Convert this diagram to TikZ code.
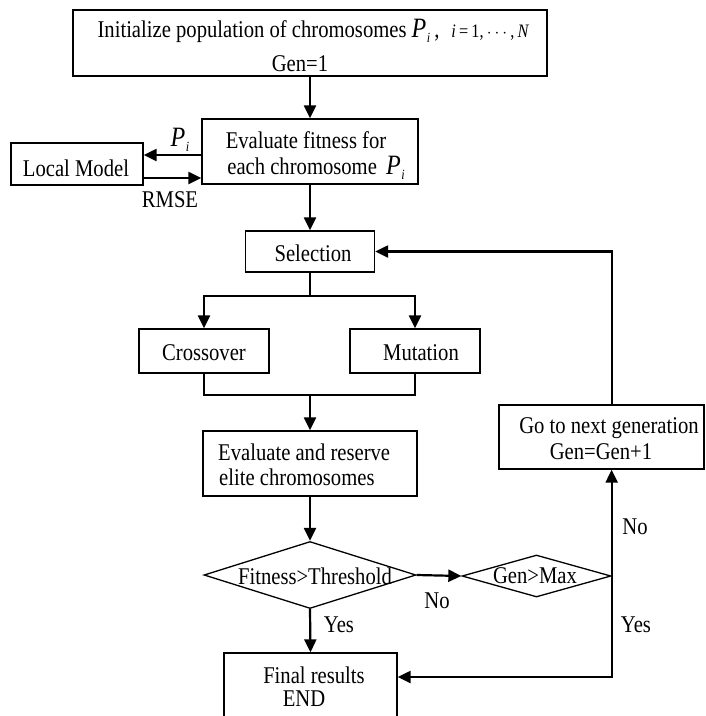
\documentclass[tikz,border=0pt]{standalone}
\usepackage{fontspec}
\setmainfont{Liberation Serif}[FakeStretch=0.86]
\usetikzlibrary{arrows.meta,shapes.geometric,calc}
\newcommand\Psub{{\fontsize{28}{28}\selectfont\itshape P}\kern0.5pt\raisebox{-5pt}{\fontsize{14}{14}\selectfont\itshape i}}
\begin{document}
\begin{tikzpicture}[x=1pt,y=-1pt,
  box/.style={draw,line width=1.3pt,rectangle,inner sep=0pt},
  dia/.style={draw,line width=1.3pt,diamond,inner sep=0pt},
  txt/.style={inner sep=0pt,font=\fontsize{24}{28}\selectfont},
  conn/.style={line width=2.2pt},
  arr/.style={conn,-{Triangle[length=13pt,width=12pt]}}]
\useasboundingbox (0,0) rectangle (706,716);
\clip (0,0) rectangle (706,716);
% boxes
\node[box,minimum width=474pt,minimum height=66pt] (init) at (310,43) {};
\node[box,minimum width=216pt,minimum height=65pt] (eval) at (310,151.5) {};
\node[box,minimum width=132pt,minimum height=42pt] (local) at (77,164) {};
\node[box,minimum width=129pt,minimum height=41pt] (sel) at (310,251.5) {};
\node[box,minimum width=130pt,minimum height=44pt] (cross) at (204,351) {};
\node[box,minimum width=130pt,minimum height=44pt] (mut) at (415,351) {};
\node[box,minimum width=214pt,minimum height=65pt] (elite) at (310,463.5) {};
\node[dia,minimum width=212pt,minimum height=67pt,shape aspect=3.16] (fit) at (310,575) {};
\node[dia,minimum width=149pt,minimum height=42pt,shape aspect=3.5] (gm) at (536.5,576) {};
\node[box,minimum width=205pt,minimum height=64pt] (go) at (601.5,437) {};
\node[box,minimum width=173pt,minimum height=87pt] (final) at (310.5,696.5) {};
% texts
\node[txt] (initT) at (313,31) {Initialize population of chromosomes \Psub\,,\hspace{12pt}{\fontsize{19}{19}\selectfont\itshape i\,\upshape=\,1,\,$\cdots$\,,\,\itshape N}};
\node[txt] (genT) at (300,64) {Gen=1};
\node[txt] (evalT1) at (306,140) {Evaluate fitness for};
\node[txt] (evalT2) at (316,168) {each chromosome \,\Psub};
\node[txt] (localT) at (76,168) {Local Model};
\node[txt] (selT) at (313,253) {Selection};
\node[txt] (crossT) at (204,353) {Crossover};
\node[txt] (mutT) at (421,353) {Mutation};
\node[txt,anchor=west] (eliteT1) at (218,452) {Evaluate and reserve};
\node[txt,anchor=west] (eliteT2) at (219,477) {elite chromosomes};
\node[txt] (fitT) at (315,576) {Fitness>Threshold};
\node[txt] (gmT) at (535,576) {Gen>Max};
\node[txt] (goT1) at (609,428) {Go to next generation};
\node[txt] (goT2) at (601,452) {Gen=Gen+1};
\node[txt] (finT1) at (314,675) {Final results};
\node[txt] (finT2) at (304,699) {END};
% labels
\node[txt] (lP) at (180,140) {\Psub};
\node[txt] (lR) at (170,200) {RMSE};
\node[txt] (lNo1) at (437,601) {No};
\node[txt] (lYes1) at (339,625) {Yes};
\node[txt] (lNo2) at (635,527) {No};
\node[txt] (lYes2) at (636,625) {Yes};
% connectors
\draw[arr] (init.south) -- (eval.north);
\draw[arr] ($(eval.west)+(0,3.5)$) -- ($(local.east)+(0,-9)$);
\draw[arr] ($(local.east)+(0,14)$) -- ($(eval.west)+(0,26.5)$);
\draw[arr] (eval.south) -- (sel.north);
\coordinate (split) at ($(sel.south)+(0,23)$);
\draw[conn] (sel.south) -- (split);
\draw[arr] (split) -| (cross.north);
\draw[arr] (split) -| (mut.north);
\coordinate (merge) at (310,395);
\draw[conn] (cross.south) |- (merge) -| (mut.south);
\draw[arr] (merge) -- (elite.north);
\draw[arr] (elite.south) -- (fit.north);
\draw[arr] (fit.east) -- (gm.west);
\draw[arr] (fit.south) -- (final.north);
\draw[arr] (gm.east) -- (gm.east |- go.south);
\coordinate (c1) at ($(gm.east)+(0,101)$);
\draw[arr] (gm.east) -- (c1) -- (c1 -| final.east);
\draw[arr] (go.north -| gm.east) |- (sel.east);
\end{tikzpicture}
\end{document}
